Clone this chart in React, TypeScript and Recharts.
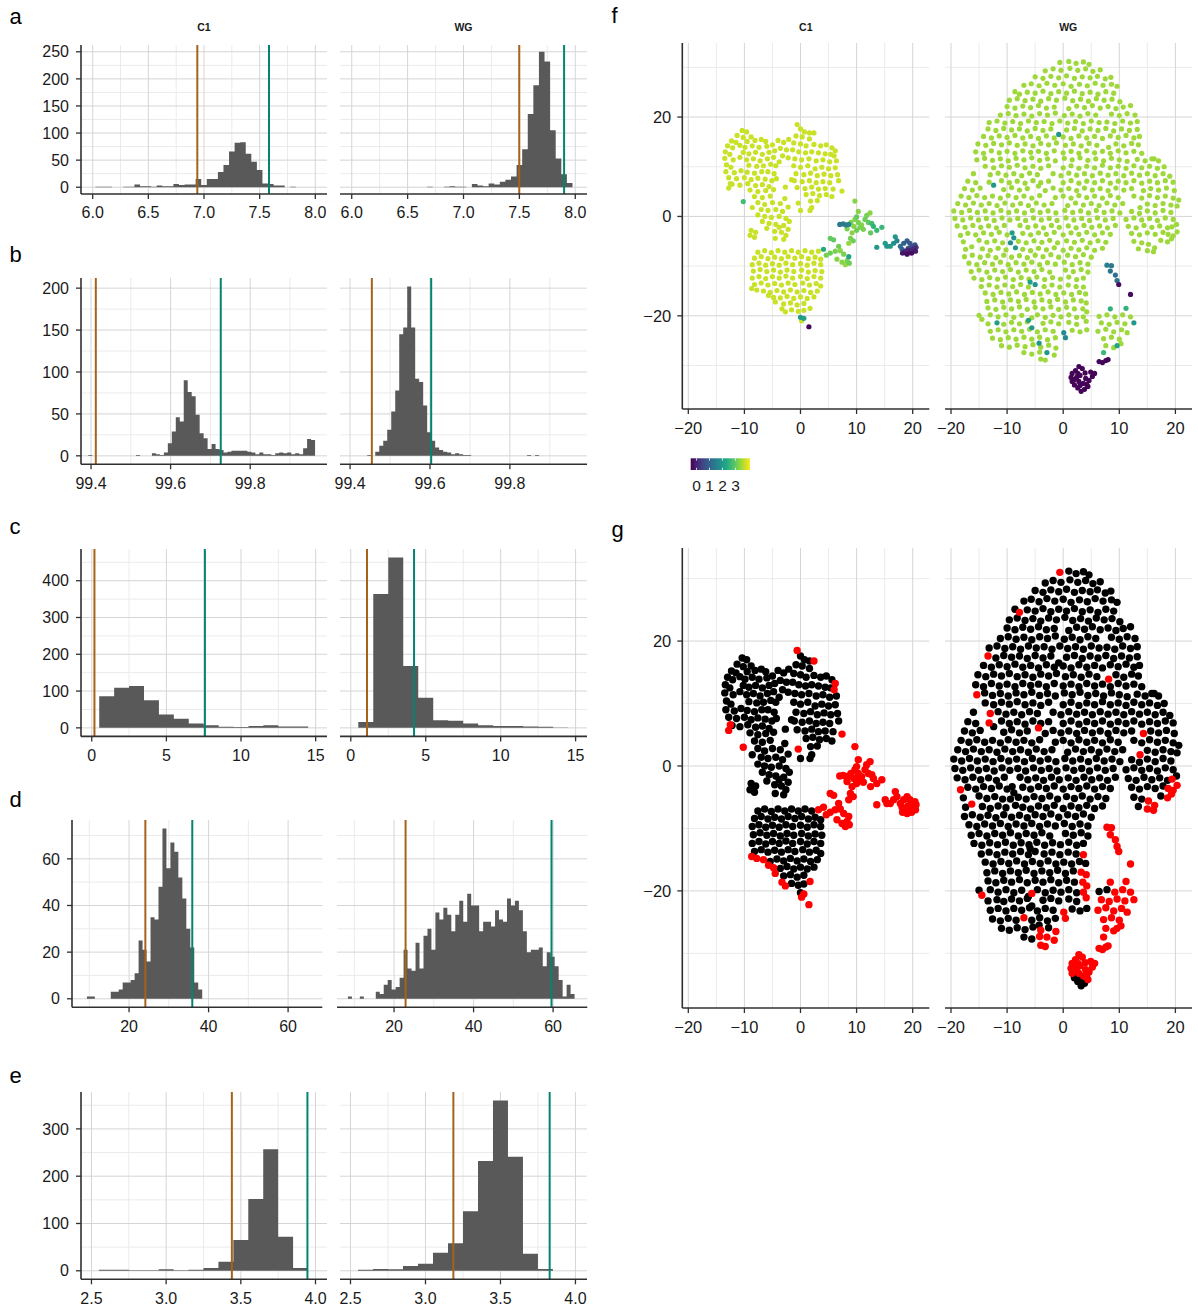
import React from 'react';
import {
  ComposedChart,
  Area,
  XAxis,
  YAxis,
  CartesianGrid,
  ReferenceLine,
  ScatterChart,
  Scatter,
} from 'recharts';

const FONT = '"Liberation Sans", Arial, Helvetica, sans-serif';
const BAR_FILL = '#595959';
const LINE_LOW = '#a6611a';
const LINE_HIGH = '#018571';
const GRID_MAJOR = '#d5d5d5';
const GRID_MINOR = '#ebebeb';
const AXIS_COLOR = '#303030';
const TEXT_COLOR = '#1a1a1a';

// ---------------- histogram rows (counts per bin) ----------------
// a
const aWidth = 0.05;
const aC1Start = 6.025;
const aC1Counts = [1, 1, 1, 0, 0, 1, 1, 5, 2, 2, 1, 3, 2, 2, 6, 4, 5, 5, 15, 4, 15, 15, 28, 41, 66, 82, 83, 62, 47, 32, 7, 6, 3, 3, 0, 1];
const aWGStart = 6.675;
const aWGCounts = [1, 0, 0, 1, 2, 1, 1, 0, 6, 3, 2, 7, 5, 10, 14, 20, 41, 70, 135, 188, 250, 232, 105, 53, 24, 8];
const aC1Cuts = [6.94, 7.584];
const aWGCuts = [7.499, 7.9];
const aXTicks = [6, 6.5, 7, 7.5, 8];
const aXMinor = [6.25, 6.75, 7.25, 7.75];
const aYTicks = [0, 50, 100, 150, 200, 250];
const aYMinor = [25, 75, 125, 175, 225];

// b
const bWidth = 0.01;
const bC1Start = 99.393;
const bC1Counts = [1, 0, 0, 0, 0, 0, 0, 0, 0, 0, 0, 0, 1, 0, 0, 0, 3, 2, 1, 4, 15, 29, 46, 41, 90, 76, 71, 49, 27, 21, 8, 14, 8, 7, 4, 5, 6, 6, 6, 6, 5, 4, 2, 4, 2, 2, 1, 3, 4, 3, 4, 2, 3, 2, 9, 20, 19];
const bWGStart = 99.443;
const bWGCounts = [1, 0, 5, 12, 18, 31, 53, 78, 145, 153, 202, 153, 92, 88, 60, 28, 18, 10, 7, 5, 4, 2, 3, 2, 1, 1, 0, 0, 0, 0, 0, 0, 0, 0, 0, 0, 0, 0, 0, 0, 1, 0, 1];
const bC1Cuts = [99.412, 99.726];
const bWGCuts = [99.4545, 99.603];
const bXTicks = [99.4, 99.6, 99.8];
const bXMinor = [99.5, 99.7, 99.9];
const bYTicks = [0, 50, 100, 150, 200];
const bYMinor = [25, 75, 125, 175];

// c
const cWidth = 1;
const cC1Start = 0.5;
const cC1Counts = [86, 109, 114, 75, 36, 25, 12, 7, 3, 2, 5, 7, 4, 4];
const cWGStart = 0.5;
const cWGCounts = [16, 364, 463, 168, 82, 21, 19, 12, 7, 5, 5, 4, 3, 1];
const cC1Cuts = [0.18, 7.58];
const cWGCuts = [1.08, 4.22];
const cXTicks = [0, 5, 10, 15];
const cXMinor = [2.5, 7.5, 12.5];
const cYTicks = [0, 100, 200, 300, 400];
const cYMinor = [50, 150, 250, 350, 450];

// d
const dWidth = 1;
const dC1Start = 9.4;
const dC1Counts = [1, 1, 0, 0, 0, 0, 3, 3, 4, 7, 7, 8, 11, 25, 21, 16, 35, 34, 48, 73, 56, 67, 63, 52, 43, 30, 22, 7, 4];
const dWGStart = 8.4;
const dWGCounts = [1, 0, 0, 1, 0, 0, 0, 3, 2, 6, 8, 4, 5, 9, 21, 13, 12, 24, 13, 27, 30, 21, 37, 34, 39, 36, 29, 36, 42, 33, 45, 40, 40, 29, 33, 33, 31, 38, 34, 33, 43, 40, 42, 38, 29, 20, 21, 21, 22, 14, 20, 18, 14, 8, 1, 6, 2];
const dC1Cuts = [24.1, 35.9];
const dWGCuts = [22.9, 59.6];
const dXTicks = [20, 40, 60];
const dXMinor = [10, 30, 50];
const dYTicks = [0, 20, 40, 60];
const dYMinor = [10, 30, 50, 70];

// e
const eWidth = 0.1;
const eC1Start = 2.55;
const eC1Counts = [2, 2, 1, 1, 3, 1, 2, 6, 19, 65, 152, 257, 72, 6];
const eWGStart = 2.55;
const eWGCounts = [2, 4, 3, 10, 15, 38, 58, 126, 232, 360, 241, 36, 4];
const eC1Cuts = [3.44, 3.946];
const eWGCuts = [3.186, 3.828];
const eXTicks = [2.5, 3, 3.5, 4];
const eXMinor = [2.75, 3.25, 3.75];
const eYTicks = [0, 100, 200, 300];
const eYMinor = [50, 150, 250, 350];

// ---------------- t-SNE embedding ----------------
// [x, y] or [x, y, 1] where 1 marks the red group in panel g; colour value shared per array
const C1_BASE_VALUE = 3.75;
const c1Upper = [
  [-10.4, 17.3], [-9.6, 17.0], [-11.3, 16.3], [-10.2, 15.9], [-8.8, 16.0], [-12.3, 15.2], [-11.5, 14.9], [-9.5, 15.1], [-8.1, 15.3], [-7.0, 15.5], [-6.2, 15.1],
  [-13.0, 14.2], [-12.1, 13.8], [-10.8, 14.3], [-9.9, 13.9], [-8.6, 14.2], [-7.4, 13.9], [-6.0, 14.1], [-5.0, 14.4],
  [-13.4, 13.0], [-12.6, 12.5], [-10.2, 12.9], [-9.2, 12.6], [-8.0, 12.9], [-6.8, 12.5], [-5.6, 12.9], [-4.6, 13.2],
  [-13.5, 11.7], [-12.0, 11.4], [-10.8, 11.9], [-9.6, 11.4], [-8.4, 11.6], [-7.2, 11.2], [-5.9, 11.6], [-4.8, 11.9],
  [-13.2, 10.4], [-12.4, 9.9], [-9.2, 10.3], [-7.8, 10.1], [-6.6, 10.2], [-5.3, 10.5], [-4.4, 10.2],
  [-13.3, 9.0], [-11.8, 8.8], [-10.6, 9.2], [-9.5, 8.9], [-8.2, 8.7], [-6.9, 9.0], [-5.8, 9.0], [-4.7, 8.6],
  [-12.8, 7.8], [-11.4, 7.6], [-10.0, 7.8], [-8.8, 7.4], [-7.6, 7.7], [-6.3, 7.5], [-5.1, 7.2], [-4.3, 7.6],
  [-12.2, 6.5], [-10.8, 6.3], [-9.4, 6.6], [-8.0, 6.2], [-6.8, 6.4], [-5.6, 6.0],
  [-12.5, 6.6, 1], [-12.8, 5.7, 1], [-9.0, 5.3], [-7.6, 5.0], [-6.2, 5.2], [-4.8, 5.4],
  [-8.2, 4.0], [-6.8, 3.8], [-5.4, 4.1],
  [-4.0, 15.3], [-3.0, 14.9], [-2.1, 15.5], [-3.6, 13.7], [-2.5, 13.4], [-3.2, 12.2], [-2.2, 11.8], [-3.8, 11.0],
  [-0.6, 18.5, 1], [0.0, 17.6], [0.7, 17.0], [1.6, 16.8], [2.4, 16.8, 1], [-0.8, 16.2], [0.3, 16.0], [1.6, 15.6],
  [-1.2, 14.8], [0.0, 14.6], [1.0, 14.2], [2.4, 14.5], [3.6, 14.2], [4.6, 14.4], [5.6, 13.8], [6.2, 13.2, 1],
  [-1.4, 13.4], [-0.3, 13.0], [0.9, 12.8], [2.0, 13.0], [3.2, 12.8], [4.4, 12.6], [5.4, 12.5], [6.0, 12.2, 1],
  [-1.0, 11.6], [0.2, 11.4], [1.5, 11.6], [2.8, 11.2], [4.0, 11.4], [5.2, 11.0], [6.4, 11.2],
  [-1.2, 10.2], [0.0, 9.9], [1.3, 10.2], [2.6, 9.6], [3.8, 9.9], [5.0, 9.6], [6.2, 9.8],
  [-0.8, 8.6], [0.6, 8.4], [1.8, 8.7], [3.0, 8.2], [4.2, 8.5], [5.4, 8.2], [6.6, 8.4],
  [-1.1, 7.2], [0.3, 7.0], [1.6, 7.2], [2.8, 6.8], [4.0, 7.0], [5.2, 6.8], [6.8, 7.2],
  [-0.6, 5.8], [0.8, 5.6], [2.0, 5.9], [3.2, 5.5], [4.4, 5.6], [5.8, 5.5], [7.4, 5.1, 1],
  [1.0, 4.4], [2.2, 4.6], [3.4, 4.2], [4.6, 4.4], [5.6, 4.0],
  [1.8, 3.1], [3.0, 3.2], [-0.4, 2.7, 1], [0.0, 1.2], [1.7, 1.2], [2.0, 1.8],
  [-2.7, 5.9], [-1.6, 7.4],
  [-7.6, 2.8], [-6.4, 2.4], [-5.0, 2.8], [-3.6, 2.6], [-2.8, 3.6], [-8.6, 1.8],
  [-7.0, 1.4], [-5.8, 1.2], [-4.4, 1.4], [-3.2, 1.0], [-2.2, 1.9],
  [-7.6, 0.3], [-6.4, 0.0], [-5.2, -0.2], [-3.8, 0.0], [-2.6, -0.4],
  [-6.8, -1.0], [-5.6, -1.4], [-4.4, -1.6], [-3.0, -1.8], [-2.0, -1.0],
  [-6.0, -2.4], [-4.6, -3.0], [-3.4, -3.2], [-2.2, -2.6], [-3.8, -2.2],
  [-8.8, -2.8], [-8.0, -3.2], [-9.0, -3.8], [-8.2, -4.2], [-4.5, -4.4], [-3.0, -4.6], [-2.6, -3.8],
];
const c1Lower = [
  [-7.6, -7.2], [-6.4, -6.9], [-5.2, -7.3], [-4.0, -6.9], [-2.8, -7.2], [-1.6, -6.9], [-0.4, -7.2], [0.8, -6.9], [2.0, -7.2], [3.2, -7.0, 1],
  [-8.2, -8.4], [-7.0, -8.1], [-5.8, -8.5], [-4.6, -8.2], [-3.4, -8.5], [-2.2, -8.1], [-1.0, -8.4], [0.2, -8.1], [1.4, -8.5], [2.6, -8.2], [3.6, -8.6],
  [-8.6, -9.7], [-7.4, -9.4], [-6.2, -9.8], [-5.0, -9.5], [-3.8, -9.8], [-2.6, -9.4], [-1.4, -9.7], [0.0, -9.5], [1.2, -9.8], [2.4, -9.4], [3.6, -9.7],
  [-8.4, -11.0], [-7.2, -10.7], [-6.0, -11.1], [-4.8, -10.8], [-3.6, -11.2], [-2.4, -10.8], [-1.2, -11.1], [0.2, -10.8], [1.4, -11.2], [2.6, -10.9], [3.8, -11.1],
  [-8.6, -12.4], [-7.4, -12.1], [-6.2, -12.5], [-5.0, -12.1], [-3.8, -12.4], [-2.6, -12.0], [-1.4, -12.4], [0.0, -12.1], [1.2, -12.5], [2.4, -12.1], [3.6, -12.4],
  [-8.2, -13.7], [-7.0, -13.4], [-5.8, -13.8], [-4.6, -13.5], [-3.4, -13.8], [-2.2, -13.4], [-1.0, -13.7], [0.4, -13.4], [1.6, -13.8], [2.8, -13.5], [3.6, -14.0],
  [-8.7, -14.5, 1], [-7.8, -14.8, 1], [-6.6, -15.0, 1], [-5.4, -15.3], [-4.2, -14.9], [-3.0, -15.2], [-1.8, -14.8], [-0.6, -15.2], [0.6, -14.9], [1.8, -15.3], [3.0, -15.0],
  [-5.7, -15.9, 1], [-4.8, -16.3, 1], [-3.6, -16.4], [-2.4, -16.1], [-1.2, -16.5], [0.0, -16.2], [1.2, -16.5], [2.4, -16.2],
  [-4.5, -17.2, 1], [-3.0, -17.6], [-1.8, -17.4], [-0.6, -17.8], [0.6, -17.5], [1.7, -18.5, 1],
  [-3.3, -18.6, 1], [-2.7, -19.2, 1], [-1.6, -18.8], [-0.4, -19.1], [0.6, -18.9],
  [0.2, -21.0, 1],
];
// [x, y, value, red]
const c1Arm = [
  [4.1, -6.6, 2.3, 1], [4.6, -7.8, 3.2, 1], [5.3, -4.4, 3.0, 1], [5.9, -4.7, 3.0, 1], [5.3, -7.4, 3.1, 1], [6.2, -7.0, 3.2, 1],
  [6.8, -6.0, 3.1, 1], [7.1, -6.9, 3.3, 1], [7.7, -7.6, 3.2, 1], [8.6, -8.1, 2.2, 1], [8.3, -8.9, 3.2, 1], [8.0, -9.7, 3.4, 1], [8.7, -9.4, 3.1, 1], [6.5, -8.6, 3.3, 1], [7.4, -9.2, 3.3, 1],
  [7.0, -1.6, 1.4, 1], [7.6, -1.5, 1.4, 1], [8.1, -1.7, 1.5, 1], [8.6, -1.6, 1.6, 1],
  [8.3, -2.5, 3.2, 1], [9.2, -3.3, 3.3, 1], [8.9, -4.4, 3.2, 1], [8.6, -5.4, 3.4, 1], [9.4, -4.9, 3.1, 1], [9.7, -0.6, 3.3, 1], [10.3, -1.2, 3.2, 1], [10.0, -0.1, 3.0, 1],
  [10.9, -1.7, 3.3, 1], [10.6, -2.2, 3.2, 1], [11.5, -0.6, 3.1, 1], [11.8, 0.2, 3.2, 1], [12.4, 0.7, 3.3, 1], [12.1, -1.2, 3.0, 1], [9.5, -2.0, 3.3, 1], [10.0, -2.8, 3.1, 1],
  [11.2, -2.6, 3.2, 1], [9.0, -1.2, 3.2, 1], [9.7, 3.1, 3.3, 1], [10.3, 1.0, 3.3, 1],
  [12.7, -1.4, 2.7, 1], [13.0, -2.0, 2.5, 1], [13.6, -2.8, 2.6, 1], [14.5, -2.2, 2.6, 1], [12.5, -3.3, 3.0, 1],
  [13.6, -6.2, 2.0, 1], [15.1, -5.4, 2.1, 1], [15.4, -6.0, 1.9, 1], [16.0, -6.0, 2.0, 1], [16.6, -5.4, 1.8, 1], [16.9, -4.1, 2.0, 1], [17.2, -4.9, 1.6, 1],
  [17.8, -6.0, 1.2, 1], [18.4, -5.4, 1.0, 1], [19.0, -4.9, 0.9, 1], [19.5, -5.4, 0.8, 1], [18.1, -6.6, 0.9, 1], [19.8, -6.0, 0.7, 1], [20.4, -5.7, 0.8, 1], [19.2, -6.4, 0.6, 1],
  [18.7, -7.0, 0.1, 1], [19.3, -6.8, 0.0, 1], [20.1, -6.5, 0.1, 1], [18.2, -7.4, -0.2, 1], [19.0, -7.6, -0.3, 1], [19.8, -7.4, -0.3, 1], [20.5, -7.0, -0.1, 1], [20.6, -6.2, 0.2, 1],
  [-10.2, 3.0, 2.7, 1], [0.0, -20.3, 2.0, 0], [0.6, -20.5, 2.2, 1], [1.5, -22.2, -0.4, 1],
];

const WG_BASE_VALUE = 3.45;
const wgTop = [
  [-0.6, 31.0, 1], [1.0, 31.2], [2.3, 30.8], [3.6, 31.1], [4.6, 30.6],
  [-3.2, 29.3], [-1.8, 29.7], [-0.4, 29.4], [1.2, 29.8], [2.6, 29.4], [4.0, 29.7], [5.3, 29.2], [6.6, 29.5],
  [-5.0, 28.1], [-3.6, 27.8], [-2.2, 28.2], [-0.8, 27.9], [0.6, 28.3], [2.0, 27.8], [3.4, 28.1], [4.8, 27.9], [6.1, 28.2], [7.5, 27.7], [8.5, 28.0],
  [-7.0, 26.4], [-5.7, 26.7], [-4.3, 26.3], [-2.9, 26.8], [-1.5, 26.4], [0.0, 26.7], [1.4, 26.2], [2.9, 26.6], [4.3, 26.3], [5.7, 26.8], [7.1, 26.4], [8.6, 26.6], [9.6, 26.2],
  [-8.6, 25.1], [-7.8, 24.6, 1], [-6.4, 25.0], [-5.0, 24.8], [-3.6, 25.2], [-2.2, 24.7], [-0.8, 25.1], [0.6, 24.8], [2.0, 25.2], [3.4, 24.7], [4.8, 25.0], [6.2, 24.6], [7.6, 25.1], [9.0, 24.8],
  [-9.6, 23.4], [-8.2, 23.7], [-6.8, 23.3], [-5.4, 23.6], [-4.0, 23.2], [-2.6, 23.7], [-1.2, 23.4], [0.3, 23.8], [1.7, 23.3], [3.1, 23.6], [4.5, 23.2], [5.9, 23.7], [7.3, 23.4], [8.7, 23.6], [10.1, 23.1],
  [-10.0, 22.1], [-8.6, 21.8], [-7.2, 22.2], [-5.8, 21.9], [-4.4, 22.3], [-3.0, 21.8], [-1.6, 22.0], [1.0, 21.7], [2.4, 22.2], [3.8, 21.9], [5.2, 22.3], [6.6, 21.8], [8.0, 22.1], [9.4, 21.7], [10.7, 22.0], [12.0, 22.3],
  [-11.2, 20.4], [-9.8, 20.7], [-8.4, 20.3], [-7.0, 20.6], [-5.6, 20.2], [-4.2, 20.7], [-2.8, 20.4], [-1.4, 20.8], [0.2, 20.3], [1.6, 20.6], [3.0, 20.2], [4.4, 20.7], [5.8, 20.4], [8.6, 20.6], [10.0, 20.3], [11.4, 20.7], [12.8, 20.4],
  [-13.2, 18.9], [-11.8, 19.2], [-10.4, 18.8], [-9.0, 19.1], [-7.6, 18.7], [-6.2, 19.2], [-4.8, 18.9], [-3.4, 19.1], [-2.0, 18.7], [-0.6, 19.2], [0.8, 18.8], [2.2, 19.1], [3.6, 18.7], [5.0, 19.2], [6.4, 18.9], [7.8, 19.0], [9.2, 18.7], [10.6, 19.2], [12.0, 18.8], [13.2, 19.1],
  [-13.4, 17.6, 1], [-12.0, 17.3], [-10.6, 17.7], [-9.2, 17.4], [-7.8, 17.6], [-6.4, 17.2], [-5.0, 17.7], [-3.6, 17.3], [-2.2, 17.6], [0.6, 17.4], [2.0, 17.7], [3.4, 17.2], [4.8, 17.6], [6.2, 17.3], [7.6, 17.7], [9.0, 17.2], [10.4, 17.6], [11.8, 17.3], [13.2, 17.5],
  [-14.2, 16.1], [-12.8, 15.8], [-11.4, 16.2], [-10.0, 15.9], [-8.6, 16.3], [-7.2, 15.8], [-5.8, 16.1], [-4.4, 15.7], [-3.0, 16.2], [-1.6, 15.8], [0.0, 16.0], [1.4, 15.7], [2.8, 16.2], [4.2, 15.8], [5.6, 16.1], [7.0, 15.7], [8.4, 16.2], [9.8, 15.9], [11.2, 16.3], [12.6, 15.8], [13.6, 16.1],
  [-15.2, 14.6], [-13.8, 14.3], [-12.4, 14.7], [-11.0, 14.4], [-9.6, 14.8], [-8.2, 14.3], [-6.8, 14.6], [-5.4, 14.2], [-4.0, 14.7], [-2.6, 14.4], [-1.2, 14.8], [0.4, 14.3], [1.8, 14.6], [3.2, 14.2], [4.6, 14.7], [6.0, 14.3], [8.1, 13.9, 1], [9.4, 14.6], [10.8, 14.2], [12.2, 14.7], [13.4, 14.4],
];
const wgMiddle = [
  [-15.6, 13.0], [-14.2, 12.7], [-12.8, 13.2], [-11.4, 12.8], [-10.0, 13.1], [-8.6, 12.7], [-7.2, 13.2], [-5.8, 12.9], [-4.4, 13.1], [-3.0, 12.7], [-1.6, 13.2], [0.0, 12.8], [1.4, 13.1], [2.8, 12.7], [4.2, 13.2], [5.6, 12.8], [7.0, 13.1], [8.4, 12.7], [9.8, 13.2], [11.2, 12.8], [12.6, 13.1], [14.0, 12.7], [16.2, 11.6],
  [-15.4, 11.4, 1], [-14.0, 11.7], [-12.6, 11.3], [-11.2, 11.6], [-9.8, 11.2], [-8.4, 11.7], [-7.0, 11.4], [-5.6, 11.8], [-4.2, 11.3], [-2.8, 11.6], [-1.4, 11.2], [0.2, 11.7], [1.6, 11.4], [3.0, 11.8], [4.4, 11.3], [5.8, 11.6], [7.2, 11.2], [8.6, 11.7], [10.0, 11.4], [11.4, 11.1], [13.2, 11.5], [14.6, 11.2], [15.8, 11.6], [17.0, 11.2],
  [-13.9, 10.1], [-12.4, 9.8], [-11.0, 10.2], [-9.6, 9.9], [-8.2, 10.3], [-6.8, 9.8], [-5.4, 10.1], [-4.0, 9.7], [-2.6, 10.2], [0.0, 9.8], [1.4, 10.2], [2.8, 9.7], [4.2, 10.1], [5.6, 9.8], [7.0, 10.3], [8.4, 9.8], [9.8, 10.1], [11.2, 9.7], [12.6, 10.2], [14.0, 9.8], [15.4, 10.1], [16.8, 9.7], [18.0, 10.0],
  [-16.0, 8.6], [-13.0, 8.4, 1], [-11.6, 8.7], [-10.2, 8.3], [-8.8, 8.6], [-7.4, 8.2], [-6.0, 8.7], [-4.6, 8.4], [-1.8, 8.6], [-0.4, 8.2], [1.0, 8.7], [2.4, 8.3], [3.8, 8.6], [5.2, 8.2], [6.6, 8.7], [8.0, 8.3], [9.4, 8.6], [10.8, 8.2], [12.2, 8.7], [13.6, 8.3], [15.0, 8.6], [16.4, 8.2], [17.8, 8.6], [19.0, 8.1],
  [-17.0, 7.1], [-15.6, 6.8], [-13.2, 6.9, 1], [-11.0, 7.2], [-9.6, 6.8], [-8.2, 7.1], [-6.8, 6.7], [-5.4, 7.2], [-4.0, 6.8], [-2.6, 7.1], [0.0, 6.8], [1.4, 7.2], [2.8, 6.7], [4.2, 7.1], [5.6, 6.8], [7.0, 7.2], [8.4, 6.7], [9.8, 7.1], [11.2, 6.8], [12.6, 7.2], [14.0, 6.7], [15.4, 7.1], [16.8, 6.8], [18.2, 7.2], [19.6, 6.9],
  [-17.6, 5.6], [-16.2, 5.3], [-14.8, 5.7], [-10.6, 5.4], [-9.2, 5.8], [-7.8, 5.3], [-6.4, 5.6], [-4.4, 6.1, 1], [-3.2, 5.2], [-1.8, 5.7], [-0.4, 5.3], [1.0, 5.6], [2.4, 5.2], [3.8, 5.7], [5.2, 5.3], [6.6, 5.6], [8.0, 5.2], [9.4, 5.7], [10.8, 5.3], [12.2, 5.6], [14.3, 5.2, 1], [15.6, 5.6], [17.0, 5.3], [18.4, 5.7], [19.8, 5.2],
  [-18.2, 4.1], [-16.8, 3.8], [-15.4, 4.2], [-14.0, 3.8], [-12.6, 4.1], [-11.2, 3.7], [-9.8, 4.2], [-8.4, 3.8], [-7.0, 4.1], [-5.6, 3.7], [-4.2, 4.2], [-1.4, 3.8], [0.0, 4.1], [1.4, 3.7], [2.8, 4.2], [4.2, 3.8], [5.6, 4.1], [7.0, 3.7], [8.4, 4.2], [9.8, 3.8], [12.6, 4.1], [14.0, 3.7], [15.4, 4.2], [16.8, 3.8], [18.2, 4.1], [19.6, 3.7], [20.6, 3.3],
  [-18.8, 2.6], [-17.4, 2.3], [-16.0, 2.7], [-14.6, 2.3], [-13.2, 2.6], [-11.8, 2.2], [-10.4, 2.7], [-9.0, 2.3], [-7.6, 2.6], [-6.2, 2.2], [-4.8, 2.7], [-3.4, 2.3], [-2.0, 2.6], [0.8, 2.2], [2.2, 2.7], [3.6, 2.3], [5.0, 2.6], [6.4, 2.2], [7.8, 2.7], [9.2, 2.3], [10.6, 2.6], [13.7, 1.8, 1], [15.0, 2.5], [16.4, 2.2], [17.8, 2.6], [19.2, 2.3], [20.3, 2.1],
  [-19.5, 1.1], [-18.1, 0.8], [-16.7, 1.2], [-15.3, 0.8], [-13.9, 1.1], [-12.5, 0.7], [-11.1, 1.2], [-9.7, 0.8], [-8.3, 1.1], [-6.9, 0.7], [-5.5, 1.2], [-4.1, 0.8], [-2.7, 1.1], [-1.3, 0.7], [0.3, 1.2], [1.7, 0.8], [3.1, 1.1], [4.5, 0.7], [5.9, 1.2], [7.3, 0.8], [8.7, 1.1], [10.1, 0.7], [12.2, 1.0], [13.6, 0.6], [15.0, 1.1], [16.4, 0.7], [17.8, 1.2], [19.2, 0.8],
  [-19.3, -0.4], [-17.9, -0.7], [-16.5, -0.3], [-15.1, -0.7], [-13.7, -0.4], [-12.3, -0.8], [-10.9, -0.3], [-9.5, -0.7], [-8.1, -0.4], [-6.7, -0.8], [-5.3, -0.3], [-3.9, -0.7], [-2.5, -0.4], [-1.1, -0.8], [0.5, -0.3], [1.9, -0.7], [3.3, -0.4], [4.7, -0.8], [6.1, -0.3], [7.5, -0.7], [8.9, -0.4], [11.2, -0.6], [12.6, -0.3], [14.0, -0.7], [15.4, -0.4], [16.8, -0.8], [18.2, -0.3], [19.6, -0.6],
  [-18.9, -1.9], [-17.5, -2.2], [-16.1, -1.8], [-14.7, -2.2], [-13.3, -1.9], [-11.9, -2.3], [-10.5, -1.8], [-7.7, -1.8], [-6.3, -2.2], [-4.9, -1.9], [-3.5, -2.3], [-2.1, -1.8], [-0.7, -2.2], [0.9, -1.9], [2.3, -2.3], [3.7, -1.8], [5.1, -2.2], [6.5, -1.9], [7.9, -2.3], [9.3, -1.8], [11.6, -2.0], [13.0, -2.3], [14.4, -1.8], [15.8, -2.2], [17.2, -1.9], [18.6, -2.3], [19.4, -2.1, 1], [20.2, -1.6],
  [-18.3, -3.8, 1], [-17.0, -3.4], [-15.6, -3.7], [-14.2, -3.3], [-12.8, -3.6], [-11.4, -3.2], [-10.0, -3.7], [-7.2, -3.4], [-5.8, -3.7], [-4.4, -3.3], [-3.0, -3.6], [-1.6, -3.2], [0.0, -3.7], [1.4, -3.3], [2.8, -3.6], [4.2, -3.2], [5.6, -3.7], [7.0, -3.3], [8.4, -3.6], [12.2, -3.4], [13.6, -3.7], [15.0, -3.3], [16.4, -3.6], [17.8, -3.2], [18.7, -3.6, 1], [19.6, -3.9, 1], [20.3, -3.1, 1],
  [-17.8, -5.1], [-16.3, -6.1, 1], [-15.0, -4.8], [-13.6, -5.2], [-12.2, -4.9], [-10.8, -5.3], [-8.0, -5.0], [-6.6, -5.3], [-5.2, -4.9], [-3.8, -5.2], [-2.4, -4.8], [-1.0, -5.3], [0.6, -4.9], [2.0, -5.2], [3.4, -4.8], [4.8, -5.3], [6.2, -4.9], [7.6, -5.2], [12.6, -5.0], [14.0, -5.3], [15.2, -5.6, 1], [16.3, -6.3, 1], [17.4, -4.8], [18.6, -5.1, 1], [19.3, -4.5, 1],
];
const wgBottom = [
  [-17.4, -6.6], [-14.4, -6.5], [-13.0, -6.8], [-11.6, -6.4], [-10.2, -6.7], [-7.2, -6.6], [-5.8, -6.9], [-4.4, -6.4], [-3.0, -6.7], [-1.6, -6.3], [0.0, -6.8], [1.4, -6.4], [2.8, -6.7], [4.2, -6.3], [5.6, -6.8], [7.0, -6.4], [13.4, -6.5], [15.0, -6.9, 1], [16.1, -7.1, 1],
  [-17.6, -8.1], [-16.2, -7.8], [-14.8, -8.2], [-13.4, -7.9], [-12.0, -8.3], [-10.6, -7.8], [-9.2, -8.2], [-7.8, -7.9], [-6.4, -8.3], [-5.0, -7.8], [-3.6, -8.1], [-2.2, -7.7], [-0.8, -8.2], [0.8, -7.8], [2.2, -8.1], [3.6, -7.7], [5.0, -8.2],
  [-16.8, -9.4], [-15.4, -9.7], [-14.0, -9.3], [-12.6, -9.6], [-11.2, -9.2], [-9.8, -9.7], [-8.4, -9.3], [-7.0, -9.6], [-5.6, -9.2], [-4.2, -9.7], [-2.8, -9.3], [-1.4, -9.6], [0.2, -9.2], [1.6, -9.7], [3.0, -9.3], [4.4, -9.6],
  [-16.4, -11.1], [-15.0, -10.8], [-13.6, -11.2], [-12.2, -10.8], [-10.8, -11.1], [-9.4, -10.7], [-8.0, -11.2], [-6.6, -10.8], [-5.2, -11.1], [-3.8, -10.7], [-2.4, -11.2], [0.4, -10.8], [1.8, -11.1], [3.2, -10.7], [4.4, -11.2],
  [-15.9, -12.4], [-14.5, -12.7], [-13.1, -12.3], [-11.7, -12.6], [-10.3, -12.2], [-8.9, -12.7], [-7.5, -12.3], [-6.1, -12.6], [-4.7, -12.2], [-3.3, -12.7], [-1.9, -12.3], [-0.5, -12.6], [1.0, -12.2], [2.4, -12.7], [3.6, -12.4],
  [-14.6, -14.1], [-13.2, -13.8], [-11.8, -14.2], [-10.4, -13.8], [-9.0, -14.1], [-7.6, -13.7], [-6.2, -14.2], [-3.4, -14.1], [-2.0, -13.8], [-0.6, -14.2], [0.9, -13.8], [2.3, -14.1], [3.6, -14.2, 1],
  [-13.9, -15.4], [-12.5, -15.7], [-11.1, -15.3], [-9.7, -15.6], [-8.3, -15.2], [-6.9, -15.7], [-5.5, -15.3], [-4.1, -15.6], [-2.7, -15.2], [-1.3, -15.7], [0.1, -15.4], [1.5, -15.7], [2.9, -15.3], [4.0, -15.6],
  [-13.6, -17.1], [-12.2, -16.8], [-10.8, -17.2], [-9.4, -16.8], [-8.0, -17.1], [-6.6, -16.7], [-5.2, -17.2], [-3.8, -16.8], [-2.4, -17.1], [-1.0, -16.7], [0.4, -17.2], [1.8, -16.8], [3.2, -17.0, 1], [4.1, -17.4, 1],
  [-13.4, -18.4], [-12.0, -18.7], [-10.6, -18.3], [-9.2, -18.6], [-7.8, -18.2], [-6.4, -18.7], [-5.0, -18.3], [-3.6, -18.6], [-2.2, -18.2], [-0.8, -18.7], [0.6, -18.3], [2.0, -18.6], [3.5, -18.6, 1], [4.2, -19.2, 1],
  [-15.0, -19.9], [-14.5, -20.7, 1], [-13.0, -19.8], [-11.6, -20.2], [-10.2, -19.8], [-8.8, -20.3], [-7.4, -19.9], [-5.6, -20.4, 1], [-4.6, -19.8], [-3.2, -20.3], [-1.8, -19.9], [-0.4, -20.2], [1.0, -19.8], [2.4, -20.3], [3.6, -20.2, 1], [4.1, -21.1, 1], [6.4, -20.1], [7.8, -19.8], [9.2, -20.2, 1], [10.6, -19.8, 1], [12.0, -20.2, 1],
  [-13.4, -21.6], [-10.6, -21.7], [-9.2, -21.3], [-7.8, -21.6], [-6.4, -21.2], [-3.6, -21.5], [-2.2, -21.2], [-0.8, -21.6], [1.0, -21.3], [2.4, -21.7], [6.8, -21.4, 1], [8.2, -21.7, 1], [9.6, -21.3, 1], [11.0, -21.6, 1],
  [-13.0, -23.1], [-11.6, -22.8], [-10.2, -23.2], [-8.8, -22.8], [-7.4, -23.1], [-6.0, -22.7], [-4.6, -23.2], [-3.2, -22.8], [-1.8, -23.1], [1.6, -22.9], [3.0, -23.2], [4.2, -22.8], [6.2, -23.1, 1], [7.6, -22.7, 1], [9.0, -23.2, 1], [10.4, -22.8, 1], [11.4, -23.4, 1],
  [-12.6, -24.5], [-11.2, -24.8], [-9.8, -24.4], [-8.4, -24.7], [-7.0, -24.3, 1], [-5.6, -24.7], [-4.2, -24.3], [-2.8, -24.8], [-1.4, -24.4], [7.2, -24.6, 1], [8.6, -24.3, 1], [10.0, -24.7, 1],
  [-11.0, -26.0], [-9.6, -26.3], [-8.2, -25.9], [-6.8, -26.2], [-5.4, -25.8], [-4.0, -26.3, 1], [-2.6, -25.9], [-1.3, -26.5, 1], [7.6, -26.0, 1], [9.0, -26.4, 1], [10.3, -25.6, 1],
  [-7.0, -27.4], [-5.6, -27.7], [-4.2, -27.3, 1], [-1.6, -27.9, 1],
  [-4.0, -28.7, 1], [-3.2, -28.9, 1],
];
// [x, y, value, red]
const wgAccent = [
  [-0.8, 16.5, 1.9, 0], [-12.4, 6.3, 2.0, 0], [-9.1, -3.3, 2.1, 0], [-8.8, -4.3, 1.9, 0], [-9.4, -5.3, 1.8, 0], [-8.5, -6.3, 2.0, 0],
  [-5.0, -13.7, 1.9, 0], [-5.9, -13.2, 2.2, 0], [-5.6, -22.4, 2.0, 0], [-11.8, -21.4, 2.1, 0], [-6.2, -20.9, 2.2, 0], [-4.3, -25.5, 2.0, 0],
  [0.1, -23.4, 1.8, 1], [0.4, -24.4, 1.7, 1], [-2.9, -27.4, 2.0, 1], [12.6, -21.4, 2.0, 1], [9.6, -26.0, 2.2, 1], [8.4, -18.6, 2.5, 1], [11.2, -18.5, 2.5, 1], [7.2, -27.4, 2.6, 1],
  [7.8, -9.8, 1.5, 1], [8.6, -9.9, 1.4, 1], [8.4, -11.0, 1.3, 1], [9.3, -11.8, 1.2, 1], [9.6, -12.9, 1.3, 1],
  [9.9, -13.7, -0.3, 1], [12.0, -15.7, -0.3, 1], [6.4, -29.2, -0.4, 1], [7.0, -29.4, -0.4, 1], [7.6, -29.0, -0.4, 1], [8.0, -28.8, -0.4, 1],
  [2.8, -30.2, -0.4, 1], [3.4, -30.6, -0.4, 1], [2.2, -31.0, -0.4, 1], [1.6, -31.6, -0.4, 1], [2.6, -31.6, -0.4, 1], [3.9, -31.5, -0.4, 1], [4.9, -31.3, -0.4, 1],
  [5.6, -31.6, -0.4, 1], [1.4, -32.4, -0.4, 1], [2.4, -32.4, -0.4, 1], [3.0, -32.0, -0.4, 1], [4.0, -32.6, -0.4, 1], [5.2, -32.2, -0.4, 1], [4.6, -33.0, -0.4, 1],
  [1.6, -33.2, -0.4, 1], [2.0, -32.8, -0.4, 1], [2.8, -33.2, -0.4, 1], [3.6, -33.6, -0.4, 1], [2.0, -33.9, -0.4, 0], [4.2, -33.8, -0.4, 1], [3.0, -34.0, -0.4, 0],
  [2.6, -34.5, -0.4, 0], [3.8, -34.8, -0.4, 0], [4.4, -34.2, -0.4, 1], [3.2, -35.2, -0.4, 0],
];

// ---------------- colour scale ----------------
const VIRIDIS = ['#440154', '#482475', '#414487', '#355f8d', '#2a788e', '#21918c', '#22a884', '#44bf70', '#7ad151', '#bddf26', '#fde725'];
const COLOR_MIN = -0.45;
const COLOR_MAX = 4.12;
const LEGEND_BREAKS = [0, 1, 2, 3];

function hexToRgb(h: string) {
  return [parseInt(h.slice(1, 3), 16), parseInt(h.slice(3, 5), 16), parseInt(h.slice(5, 7), 16)];
}
function viridis(v: number) {
  const t = Math.min(1, Math.max(0, (v - COLOR_MIN) / (COLOR_MAX - COLOR_MIN))) * 10;
  const i = Math.min(9, Math.floor(t));
  const f = t - i;
  const a = hexToRgb(VIRIDIS[i]);
  const b = hexToRgb(VIRIDIS[i + 1]);
  const c = a.map((ch, k) => Math.round(ch + (b[k] - ch) * f));
  return `rgb(${c[0]},${c[1]},${c[2]})`;
}

type Pt = { x: number; y: number; v: number; red: boolean };
const withBase = (arr: number[][], v: number): Pt[] => arr.map((p) => ({ x: p[0], y: p[1], v, red: p[2] === 1 }));
const withValue = (arr: number[][]): Pt[] => arr.map((p) => ({ x: p[0], y: p[1], v: p[2], red: p[3] === 1 }));

const c1Points = [...withBase(c1Upper, C1_BASE_VALUE), ...withBase(c1Lower, C1_BASE_VALUE), ...withValue(c1Arm)];
const wgPoints = [
  ...withBase(wgTop, WG_BASE_VALUE),
  ...withBase(wgMiddle, WG_BASE_VALUE),
  ...withBase(wgBottom, WG_BASE_VALUE),
  ...withValue(wgAccent),
];

// group points by drawn colour, in drawing order
function groupByColor(pts: Pt[], mode: 'value' | 'flag') {
  const ordered =
    mode === 'value'
      ? [...pts].sort((a, b) => b.v - a.v)
      : [...pts.filter((p) => !p.red), ...pts.filter((p) => p.red)];
  const groups: { color: string; data: { x: number; y: number }[] }[] = [];
  const index = new Map<string, number>();
  ordered.forEach((p) => {
    const color = mode === 'value' ? viridis(p.v) : p.red ? '#ff0000' : '#000000';
    if (!index.has(color)) {
      index.set(color, groups.length);
      groups.push({ color, data: [] });
    }
    groups[index.get(color) as number].data.push({ x: p.x, y: p.y });
  });
  return groups;
}

// ---------------- layout ----------------
const AXIS_H = 36;
const PAD = 18;
const TICK_STYLE_H = { fill: TEXT_COLOR, fontSize: 16, fontFamily: FONT };
const TICK_STYLE_S = { fill: TEXT_COLOR, fontSize: 16.5, fontFamily: FONT };

function binSteps(start: number, width: number, counts: number[]) {
  const pts = counts.map((c, i) => ({ x: start + i * width, c }));
  pts.push({ x: start + counts.length * width, c: counts[counts.length - 1] });
  return pts;
}

function HistFacet(p: any) {
  const yW = p.showY ? p.x0 : 0;
  const leftPad = p.showY ? 0 : PAD;
  const left = p.showY ? 0 : p.x0 - PAD;
  const w = p.x1 - p.x0 + yW + leftPad + PAD;
  const data = binSteps(p.start, p.width, p.counts);
  const fmt = (v: number) => (p.digits ? v.toFixed(p.digits) : String(v));
  return (
    <div style={{ position: 'absolute', left, top: p.top - PAD }}>
      <ComposedChart
        width={w}
        height={p.h + AXIS_H + PAD}
        data={data}
        margin={{ top: PAD, right: PAD, bottom: 0, left: leftPad }}
      >
        <CartesianGrid stroke={GRID_MINOR} strokeWidth={1} verticalValues={p.xMinor} horizontalValues={p.yMinor} />
        <CartesianGrid stroke={GRID_MAJOR} strokeWidth={1} verticalValues={p.xTicks} horizontalValues={p.yTicks} />
        <XAxis
          type="number"
          dataKey="x"
          domain={p.xDomain}
          ticks={p.xTicks}
          allowDataOverflow
          interval={0}
          height={AXIS_H}
          tickSize={5}
          tickMargin={8}
          tick={TICK_STYLE_H}
          tickLine={{ stroke: AXIS_COLOR, strokeWidth: 1.3 }}
          axisLine={{ stroke: AXIS_COLOR, strokeWidth: 1.6 }}
          tickFormatter={fmt}
        />
        <YAxis
          type="number"
          domain={p.yDomain}
          ticks={p.yTicks}
          allowDataOverflow
          interval={0}
          hide={!p.showY}
          width={yW}
          tickSize={5}
          tickMargin={7}
          tick={TICK_STYLE_H}
          tickLine={{ stroke: AXIS_COLOR, strokeWidth: 1.3 }}
          axisLine={{ stroke: AXIS_COLOR, strokeWidth: 1.6 }}
        />
        <Area
          type="stepAfter"
          dataKey="c"
          fill={BAR_FILL}
          fillOpacity={1}
          stroke="none"
          baseValue={0}
          dot={false}
          activeDot={false}
          isAnimationActive={false}
        />
        <ReferenceLine x={p.cuts[0]} stroke={LINE_LOW} strokeWidth={2} />
        <ReferenceLine x={p.cuts[1]} stroke={LINE_HIGH} strokeWidth={2} />
      </ComposedChart>
    </div>
  );
}

const SX_DOMAIN: [number, number] = [-21.07, 22.96];
const SY_DOMAIN: [number, number] = [-38.75, 34.9];
const SX_TICKS = [-20, -10, 0, 10, 20];
const SX_MINOR = [-15, -5, 5, 15];
const SY_TICKS = [-20, 0, 20];
const SY_MINOR = [-30, -10, 10, 30];
const minusFmt = (v: number) => (v < 0 ? '\u2212' + Math.abs(v) : String(v));

function ScatterFacet(p: any) {
  const plotW = 247;
  const yW = p.showY ? 82.3 : 0;
  const leftPad = p.showY ? 0 : PAD;
  return (
    <div style={{ position: 'absolute', left: p.x0 - yW - leftPad, top: p.top - PAD }}>
      <ScatterChart
        width={plotW + yW + leftPad + PAD}
        height={p.h + AXIS_H + PAD}
        margin={{ top: PAD, right: PAD, bottom: 0, left: leftPad }}
      >
        <CartesianGrid stroke={GRID_MINOR} strokeWidth={1} verticalValues={SX_MINOR} horizontalValues={SY_MINOR} />
        <CartesianGrid stroke={GRID_MAJOR} strokeWidth={1} verticalValues={SX_TICKS} horizontalValues={SY_TICKS} />
        <XAxis
          type="number"
          dataKey="x"
          domain={SX_DOMAIN}
          ticks={SX_TICKS}
          allowDataOverflow
          interval={0}
          height={AXIS_H}
          tickSize={5}
          tickMargin={8}
          tick={TICK_STYLE_S}
          tickLine={{ stroke: AXIS_COLOR, strokeWidth: 1.3 }}
          axisLine={{ stroke: AXIS_COLOR, strokeWidth: 1.6 }}
          tickFormatter={minusFmt}
        />
        <YAxis
          type="number"
          dataKey="y"
          domain={SY_DOMAIN}
          ticks={SY_TICKS}
          allowDataOverflow
          interval={0}
          hide={!p.showY}
          width={yW}
          tickSize={5}
          tickMargin={6}
          tick={TICK_STYLE_S}
          tickLine={{ stroke: AXIS_COLOR, strokeWidth: 1.3 }}
          axisLine={{ stroke: AXIS_COLOR, strokeWidth: 1.6 }}
          tickFormatter={minusFmt}
        />
        {p.groups.map((g: any, i: number) => (
          <Scatter
            key={i}
            data={g.data}
            fill={g.color}
            isAnimationActive={false}
            shape={(s: any) => <circle cx={s.cx} cy={s.cy} r={p.r} fill={g.color} />}
          />
        ))}
      </ScatterChart>
    </div>
  );
}

const HIST_ROWS = [
  {
    key: 'a', top: 45, h: 149, l0: 81, l1: 327, r0: 340, r1: 587, xDomain: [5.895, 8.105], yDomain: [-12.5, 262.5],
    xTicks: aXTicks, xMinor: aXMinor, yTicks: aYTicks, yMinor: aYMinor, digits: 1, width: aWidth,
    c1: { start: aC1Start, counts: aC1Counts, cuts: aC1Cuts }, wg: { start: aWGStart, counts: aWGCounts, cuts: aWGCuts },
  },
  {
    key: 'b', top: 278, h: 186.3, l0: 81, l1: 327, r0: 340, r1: 587, xDomain: [99.3748, 99.993], yDomain: [-10.1, 212.1],
    xTicks: bXTicks, xMinor: bXMinor, yTicks: bYTicks, yMinor: bYMinor, digits: 1, width: bWidth,
    c1: { start: bC1Start, counts: bC1Counts, cuts: bC1Cuts }, wg: { start: bWGStart, counts: bWGCounts, cuts: bWGCuts },
  },
  {
    key: 'c', top: 549.3, h: 187.4, l0: 81, l1: 327, r0: 340, r1: 587, xDomain: [-0.72, 15.76], yDomain: [-23.2, 486.2],
    xTicks: cXTicks, xMinor: cXMinor, yTicks: cYTicks, yMinor: cYMinor, digits: 0, width: cWidth,
    c1: { start: cC1Start, counts: cC1Counts, cuts: cC1Cuts }, wg: { start: cWGStart, counts: cWGCounts, cuts: cWGCuts },
  },
  {
    key: 'd', top: 820, h: 187.3, l0: 72, l1: 322.3, r0: 336.7, r1: 587, xDomain: [5.65, 68.6], yDomain: [-3.65, 76.65],
    xTicks: dXTicks, xMinor: dXMinor, yTicks: dYTicks, yMinor: dYMinor, digits: 0, width: dWidth,
    c1: { start: dC1Start, counts: dC1Counts, cuts: dC1Cuts }, wg: { start: dWGStart, counts: dWGCounts, cuts: dWGCuts },
  },
  {
    key: 'e', top: 1091.7, h: 187.3, l0: 81, l1: 327, r0: 340, r1: 587, xDomain: [2.43, 4.077], yDomain: [-18, 378],
    xTicks: eXTicks, xMinor: eXMinor, yTicks: eYTicks, yMinor: eYMinor, digits: 1, width: eWidth,
    c1: { start: eC1Start, counts: eC1Counts, cuts: eC1Cuts }, wg: { start: eWGStart, counts: eWGCounts, cuts: eWGCuts },
  },
];

const PANEL_LETTERS = [
  { t: 'a', x: 9.5, y: 24 },
  { t: 'b', x: 9.5, y: 262 },
  { t: 'c', x: 9.5, y: 534 },
  { t: 'd', x: 9.5, y: 807 },
  { t: 'e', x: 9.5, y: 1083 },
  { t: 'f', x: 611.5, y: 23 },
  { t: 'g', x: 611.5, y: 536.5 },
];
const FACET_TITLES = [
  { t: 'C1', x: 204, y: 30.5 },
  { t: 'WG', x: 463.5, y: 30.5 },
  { t: 'C1', x: 805.8, y: 30.5 },
  { t: 'WG', x: 1068.2, y: 30.5 },
];

const BAR_X0 = 690.7;
const BAR_X1 = 750;
const BAR_Y0 = 458.3;
const BAR_H = 11.7;
const legendX = (v: number) => BAR_X0 + ((v - COLOR_MIN) / (COLOR_MAX - COLOR_MIN)) * (BAR_X1 - BAR_X0);

export default function App() {
  const fC1 = groupByColor(c1Points, 'value');
  const fWG = groupByColor(wgPoints, 'value');
  const gC1 = groupByColor(c1Points, 'flag');
  const gWG = groupByColor(wgPoints, 'flag');
  return (
    <div
      style={{
        position: 'absolute',
        left: 0,
        top: 0,
        width: 1198,
        height: 1310,
        background: '#ffffff',
        overflow: 'hidden',
        fontFamily: FONT,
      }}
    >
      {HIST_ROWS.map((row) => (
        <React.Fragment key={row.key}>
          <HistFacet
            showY
            x0={row.l0}
            x1={row.l1}
            top={row.top}
            h={row.h}
            xDomain={row.xDomain}
            yDomain={row.yDomain}
            xTicks={row.xTicks}
            xMinor={row.xMinor}
            yTicks={row.yTicks}
            yMinor={row.yMinor}
            digits={row.digits}
            width={row.width}
            start={row.c1.start}
            counts={row.c1.counts}
            cuts={row.c1.cuts}
          />
          <HistFacet
            showY={false}
            x0={row.r0}
            x1={row.r1}
            top={row.top}
            h={row.h}
            xDomain={row.xDomain}
            yDomain={row.yDomain}
            xTicks={row.xTicks}
            xMinor={row.xMinor}
            yTicks={row.yTicks}
            yMinor={row.yMinor}
            digits={row.digits}
            width={row.width}
            start={row.wg.start}
            counts={row.wg.counts}
            cuts={row.wg.cuts}
          />
        </React.Fragment>
      ))}

      <ScatterFacet showY x0={682.3} top={43.3} h={366} groups={fC1} r={2.6} />
      <ScatterFacet showY={false} x0={944.7} top={43.3} h={366} groups={fWG} r={2.6} />
      <ScatterFacet showY x0={682.3} top={548.3} h={460} groups={gC1} r={3.7} />
      <ScatterFacet showY={false} x0={944.7} top={548.3} h={460} groups={gWG} r={3.7} />

      <svg
        width={1198}
        height={1310}
        style={{ position: 'absolute', left: 0, top: 0, pointerEvents: 'none' }}
      >
        <defs>
          <linearGradient id="viridisBar" x1="0" y1="0" x2="1" y2="0">
            {VIRIDIS.map((c, i) => (
              <stop key={i} offset={`${i * 10}%`} stopColor={c} />
            ))}
          </linearGradient>
        </defs>
        {PANEL_LETTERS.map((l) => (
          <text key={l.t} x={l.x} y={l.y} fontSize={22} fontFamily={FONT} fill="#000">
            {l.t}
          </text>
        ))}
        {FACET_TITLES.map((f, i) => (
          <text key={i} x={f.x} y={f.y} fontSize={10.5} fontWeight="bold" fontFamily={FONT} fill="#1a1a1a" textAnchor="middle">
            {f.t}
          </text>
        ))}
        <rect x={BAR_X0} y={BAR_Y0} width={BAR_X1 - BAR_X0} height={BAR_H} fill="url(#viridisBar)" />
        {LEGEND_BREAKS.map((b) => (
          <g key={b}>
            <line x1={legendX(b)} x2={legendX(b)} y1={BAR_Y0} y2={BAR_Y0 + 2.3} stroke="#fff" strokeWidth={0.8} />
            <line x1={legendX(b)} x2={legendX(b)} y1={BAR_Y0 + BAR_H - 2.3} y2={BAR_Y0 + BAR_H} stroke="#fff" strokeWidth={0.8} />
            <text x={legendX(b)} y={490.5} fontSize={15.5} fontFamily={FONT} fill={TEXT_COLOR} textAnchor="middle">
              {b}
            </text>
          </g>
        ))}
      </svg>
    </div>
  );
}
